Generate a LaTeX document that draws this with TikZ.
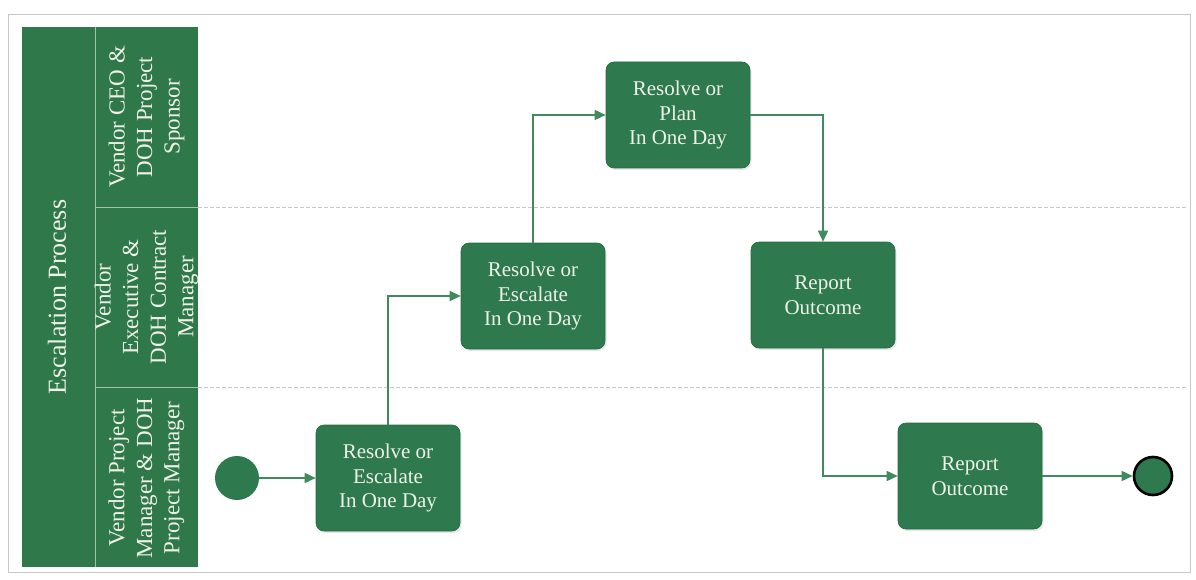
\documentclass[tikz,border=0pt]{standalone}
\usepackage{fontspec}
\setmainfont{Liberation Serif}
\usetikzlibrary{arrows.meta,shadows}
\definecolor{lanegreen}{RGB}{47,120,74}
\definecolor{boxgreen}{RGB}{46,122,78}
\definecolor{flowgreen}{RGB}{64,138,94}
\definecolor{textcream}{RGB}{238,241,230}
\definecolor{rulegray}{RGB}{200,200,200}
\begin{document}
\begin{tikzpicture}[x=1pt,y=-1pt,
  task/.style={draw=boxgreen!85!black, line width=0.6pt, fill=boxgreen,
    rounded corners=8pt, minimum width=144pt, minimum height=106pt,
    text=textcream, align=center, inner sep=0pt,
    font=\fontsize{21}{24.5}\selectfont,
    drop shadow={opacity=0.18, shadow xshift=1.5pt, shadow yshift=-2pt}},
  flow/.style={draw=flowgreen, line width=1.5pt,
    -{Triangle[length=11pt,width=10pt]}},
  lanelabel/.style={rotate=90, text=textcream, align=center,
    font=\fontsize{23}{27.5}\selectfont},
  startev/.style={circle, fill=boxgreen, minimum size=44pt, inner sep=0pt},
  endev/.style={circle, fill=boxgreen, draw=black, line width=2.6pt,
    minimum size=38pt, inner sep=0pt},
  divider/.style={draw=rulegray, line width=0.6pt, dash pattern=on 4pt off 2pt}]

\useasboundingbox (0,0) rectangle (1196,580);

% outer frame
\draw[rulegray, line width=0.8pt] (8,14) rectangle (1190,572);

% lane dividers across the drawing area
\draw[divider] (198,207) -- (1188,207);
\draw[divider] (198,387) -- (1188,387);

% pool header and lane headers
\fill[lanegreen] (22,27) rectangle (198,567);
\draw[textcream!60!lanegreen, line width=0.8pt] (95,27) -- (95,567);
\draw[textcream!60!lanegreen, line width=0.8pt] (95,207) -- (198,207);
\draw[textcream!60!lanegreen, line width=0.8pt] (95,387) -- (198,387);

\node[lanelabel, font=\fontsize{26}{30}\selectfont] (pool) at (57,297) {Escalation Process};
\node[lanelabel] (laneA) at (146.5,117) {Vendor CEO \&\\DOH Project\\Sponsor};
\node[lanelabel] (laneB) at (146.5,297) {Vendor\\Executive \&\\DOH Contract\\Manager};
\node[lanelabel] (laneC) at (146.5,478) {Vendor Project\\Manager \& DOH\\Project Manager};

% events and tasks
\node[startev] (start) at (237,478) {};
\node[task] (t1) at (388,478) {Resolve or\\Escalate\\In One Day};
\node[task] (t2) at (533,296) {Resolve or\\Escalate\\In One Day};
\node[task] (t3) at (678,115) {Resolve or\\Plan\\In One Day};
\node[task] (t4) at (823,295) {Report\\Outcome};
\node[task] (t5) at (970,476) {Report\\Outcome};
\node[endev] (stop) at (1153,476) {};

% sequence flows
\draw[flow] (start) -- (t1);
\draw[flow] (t1.north) |- (t2.west);
\draw[flow] (t2.north) |- (t3.west);
\draw[flow] (t3.east) -| (t4.north);
\draw[flow] (t4.south) |- (t5.west);
\draw[flow] (t5) -- (stop);
\end{tikzpicture}
\end{document}
